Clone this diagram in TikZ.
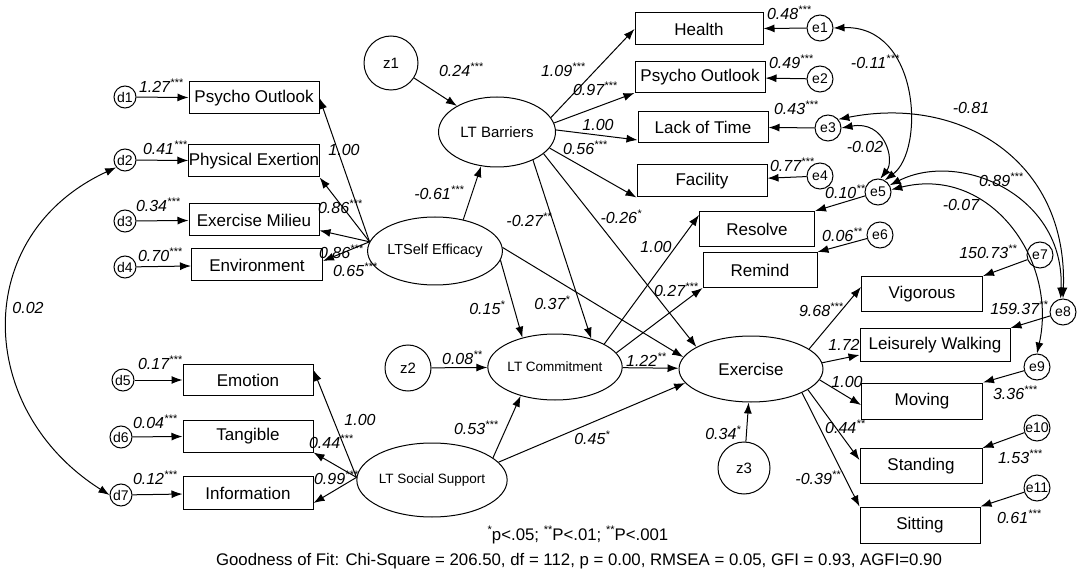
\documentclass[tikz,border=0pt]{standalone}
\usepackage{fontspec}
\setmainfont{Liberation Sans}
\usetikzlibrary{shapes.geometric,arrows.meta}
\newcommand{\pv}[1]{\raisebox{0.38em}{\fontsize{11}{11}\selectfont#1}}

\begin{document}
\begin{tikzpicture}[x=1pt, y=-1pt, line width=1pt,
  >={Latex[length=11pt,width=8pt]},
  obs/.style={draw, rectangle, minimum width=130pt, minimum height=32pt, inner sep=0pt, font=\fontsize{17}{19}\selectfont},
  obsr/.style={obs, minimum width=121pt, minimum height=35pt},
  lat/.style={draw, ellipse, inner sep=0pt},
  errc/.style={draw, circle, inner sep=0pt, minimum size=26pt, font=\fontsize{14}{16}\selectfont},
  dc/.style={errc, minimum size=22pt},
  coef/.style={inner sep=0pt, font=\itshape\fontsize{16}{18}\selectfont},
  note/.style={inner sep=0pt, font=\fontsize{16.8}{19}\selectfont}]

   \useasboundingbox (0,0) rectangle (1085,580);

   % self efficacy indicators
   \node[dc] (d1) at (125,97) {d1};
   \node[dc] (d2) at (125,160) {d2};
   \node[dc] (d3) at (125,221) {d3};
   \node[dc] (d4) at (125,267) {d4};
   \node[obs] (po1) at (254,98) {Psycho Outlook};
   \node[obs] (pe) at (254,161) {Physical Exertion};
   \node[obs] (em) at (254,220) {Exercise Milieu};
   \node[obs, minimum width=131pt] (env) at (257,265) {Environment};

   % social support indicators
   \node[dc] (d5) at (123,380) {d5};
   \node[dc] (d6) at (121,437) {d6};
   \node[dc] (d7) at (121,495) {d7};
   \node[obs, minimum height=31pt] (emo) at (248,380) {Emotion};
   \node[obs] (tan) at (248,436) {Tangible};
   \node[obs, minimum height=33pt] (inf) at (248,493) {Information};

   % barrier indicators
   \node[obs, minimum width=128pt] (hl) at (699,29) {Health};
   \node[obs, minimum height=31pt] (po2) at (700,77) {Psycho Outlook};
   \node[obs, minimum height=31pt] (lot) at (703,127) {Lack of Time};
   \node[obs] (fac) at (702,181) {Facility};
   \node[errc] (e1) at (820,28) {e1};
   \node[errc] (e2) at (820,79) {e2};
   \node[errc] (e3) at (828,128) {e3};
   \node[errc] (e4) at (820,176) {e4};

   % commitment indicators
   \node[obs, minimum width=115pt, minimum height=35pt] (rsv) at (757,229) {Resolve};
   \node[obs, minimum width=114pt, minimum height=35pt] (rem) at (760,270) {Remind};
   \node[errc] (e5) at (878,192) {e5};
   \node[errc] (e6) at (880,235) {e6};

   % exercise indicators
   \node[obsr] (vig) at (922,294) {Vigorous};
   \node[obsr, minimum width=150pt, minimum height=33pt] (lw) at (935,345) {Leisurely Walking};
   \node[obsr, minimum height=36pt] (mov) at (922,401) {Moving};
   \node[obsr, minimum width=122pt] (std) at (921,466) {Standing};
   \node[obsr, minimum width=120pt, minimum height=36pt] (sit) at (920,525) {Sitting};
   \node[errc] (e7) at (1040,255) {e7};
   \node[errc] (e8) at (1063,312) {e8};
   \node[errc] (e9) at (1037,367) {e9};
   \node[errc] (e10) at (1037,428) {e10};
   \node[errc] (e11) at (1037,488) {e11};

   % latent variables
   \node[lat, minimum width=116pt, minimum height=68pt, font=\fontsize{14.5}{16}\selectfont] (se) at (435,251) {LTSelf Efficacy};
   \node[lat, minimum width=117pt, minimum height=70pt, font=\fontsize{15}{17}\selectfont] (ltb) at (497,132) {LT Barriers};
   \node[lat, minimum width=130pt, minimum height=66pt, font=\fontsize{13.5}{15}\selectfont] (ltc) at (555,367) {LT Commitment};
   \node[lat, minimum width=115pt, minimum height=74pt, font=\fontsize{13.5}{15}\selectfont] (ss) at (432,480) {LT Social Support};
   \node[lat, minimum width=144pt, minimum height=66pt, font=\fontsize{17}{19}\selectfont] (ex) at (751,369) {Exercise};
   \node[errc, minimum size=54pt, font=\fontsize{15}{17}\selectfont] (z1) at (391,63) {z1};
   \node[errc, minimum size=46pt, font=\fontsize{15}{17}\selectfont] (z2) at (408,368) {z2};
   \node[errc, minimum size=52pt, font=\fontsize{15}{17}\selectfont] (z3) at (744,468) {z3};

   % measurement arrows
   \foreach \a/\b in {d1/po1, d2/pe, d3/em, d4/env, d5/emo, d6/tan, d7/inf, e1/hl, e2/po2, e3/lot, e4/fac}
      \draw[->] (\a) -- (\b);
   \foreach \a/\b in {e5/rsv, e6/rem, e7/vig, e8/lw, e9/mov, e10/std, e11/sit}
      \draw[->] (\a) -- (\b.north east);

   \draw[->] (se.172) -- (po1.east);
   \draw[->] (se.172) -- (pe.south east);
   \draw[->] (se.172) -- ([yshift=6pt]em.south east);
   \draw[->] (se.172) -- ([yshift=4pt]env.east);

   \draw[->] (ss.178) -- ([yshift=10pt]emo.east);
   \draw[->] (ss.178) -- (tan.south east);
   \draw[->] (ss.178) -- ([yshift=-10pt]inf.east);

   \draw[->] (ltb.15) -- (hl.west);
   \draw[->] (ltb.9) -- (po2.south west);
   \draw[->] (ltb.2) -- ([yshift=3pt]lot.south west);
   \draw[->] (ltb.-17) -- (fac.south west);

   \draw[->] (ltc.25) -- ([yshift=-4pt]rsv.north west);
   \draw[->] (ltc.13) -- (rem.south west);

   \draw[->] (ex.19) -- ([yshift=7pt]vig.west);
   \draw[->] (ex.5) -- ([yshift=-10pt]lw.west);
   \draw[->] (ex.-9) -- ([yshift=-4pt]mov.west);
   \draw[->] (ex.-20) -- ([yshift=6pt]std.west);
   \draw[->] (ex.-25) -- (sit.north west);

   % structural paths
   \draw[->] (z1) -- (ltb);
   \draw[->] (z2) -- (ltc);
   \draw[->] (z3) -- (ex);
   \draw[->] (se.48) -- (ltb.-115);
   \draw[->] (se.-8) -- (ltc.138);
   \draw[->] (se.3) -- (ex.170);
   \draw[->] (ltb.-38) -- (ltc.38);
   \draw[->] (ltb.-25) -- (ex.158);
   \draw[->] (ltc) -- (ex);
   \draw[->] (ss.20) -- (ltc.-140);
   \draw[->] (ss.15) -- (ex.-168);

   % correlations
   \draw[<->] (d2.220) .. controls (-30,235) and (-25,410) .. (d7.west);
   \draw[<->] (e1.east) .. controls (920,25) and (925,150) .. (e5.60);
   \draw[<->] (e3.east) .. controls (885,120) and (895,160) .. (e5.80);
   \draw[<->] (e3.40) .. controls (960,95) and (1068,160) .. (e8.north);
   \draw[<->] (e5.30) .. controls (960,150) and (1065,195) .. (e8.100);
   \draw[<->] (e5.10) .. controls (990,165) and (1058,260) .. (e9.north);

   % coefficients
   \node[coef] (k1) at (161,86) {1.27\pv{***}};
   \node[coef] (k2) at (165,148) {0.41\pv{***}};
   \node[coef] (k3) at (158,205) {0.34\pv{***}};
   \node[coef] (k4) at (160,255) {0.70\pv{***}};
   \node[coef] (k5) at (344,150) {1.00};
   \node[coef] (k6) at (340,207) {0.86\pv{***}};
   \node[coef] (k7) at (341,252) {0.86\pv{***}};
   \node[coef] (k8) at (355,270) {0.65\pv{***}};
   \node[coef] (k9) at (160,363) {0.17\pv{***}};
   \node[coef] (k10) at (155,422) {0.04\pv{***}};
   \node[coef] (k11) at (155,478) {0.12\pv{***}};
   \node[coef] (k12) at (360,420) {1.00};
   \node[coef] (k13) at (331,442) {0.44\pv{***}};
   \node[coef] (k14) at (336,478) {0.99\pv{***}};
   \node[coef] (k15) at (28,308) {0.02};
   \node[coef] (k16) at (461,70) {0.24\pv{***}};
   \node[coef] (k17) at (439,193) {-0.61\pv{***}};
   \node[coef] (k18) at (563,70) {1.09\pv{***}};
   \node[coef] (k19) at (595,89) {0.97\pv{***}};
   \node[coef] (k20) at (598,125) {1.00};
   \node[coef] (k21) at (585,148) {0.56\pv{***}};
   \node[coef] (k22) at (789,13) {0.48\pv{***}};
   \node[coef] (k23) at (791,62) {0.49\pv{***}};
   \node[coef] (k24) at (796,108) {0.43\pv{***}};
   \node[coef] (k25) at (792,165) {0.77\pv{***}};
   \node[coef] (k26) at (845,192) {0.10\pv{**}};
   \node[coef] (k27) at (842,235) {0.06\pv{**}};
   \node[coef] (k28) at (875,62) {-0.11\pv{***}};
   \node[coef] (k29) at (865,147) {-0.02};
   \node[coef] (k30) at (971,108) {-0.81};
   \node[coef] (k31) at (1001,180) {0.89\pv{***}};
   \node[coef] (k32) at (961,205) {-0.07};
   \node[coef] (k33) at (529,220) {-0.27\pv{**}};
   \node[coef] (k34) at (621,217) {-0.26\pv{*}};
   \node[coef] (k35) at (656,247) {1.00};
   \node[coef] (k36) at (676,290) {0.27\pv{***}};
   \node[coef] (k37) at (487,308) {0.15\pv{*}};
   \node[coef] (k38) at (552,303) {0.37\pv{*}};
   \node[coef] (k39) at (462,358) {0.08\pv{**}};
   \node[coef] (k40) at (646,360) {1.22\pv{**}};
   \node[coef] (k41) at (476,428) {0.53\pv{***}};
   \node[coef] (k42) at (592,438) {0.45\pv{*}};
   \node[coef] (k43) at (723,433) {0.34\pv{*}};
   \node[coef] (k44) at (988,252) {150.73\pv{**}};
   \node[coef] (k45) at (1019,308) {159.37\pv{**}};
   \node[coef] (k46) at (1015,393) {3.36\pv{***}};
   \node[coef] (k47) at (1020,457) {1.53\pv{***}};
   \node[coef] (k48) at (1019,517) {0.61\pv{***}};
   \node[coef] (k49) at (821,310) {9.68\pv{***}};
   \node[coef] (k50) at (844,345) {1.72};
   \node[coef] (k51) at (847,382) {1.00};
   \node[coef] (k52) at (845,427) {0.44\pv{**}};
   \node[coef] (k53) at (818,478) {-0.39\pv{**}};

   % notes
   \node[note] (sig) at (578,535) {\pv{*}p<.05; \pv{**}P<.01; \pv{**}P<.001};
   \node[note] (fit) at (579,561) {Goodness of Fit: Chi-Square = 206.50, df = 112, p = 0.00, RMSEA = 0.05, GFI = 0.93, AGFI=0.90};

\end{tikzpicture}
\end{document}
